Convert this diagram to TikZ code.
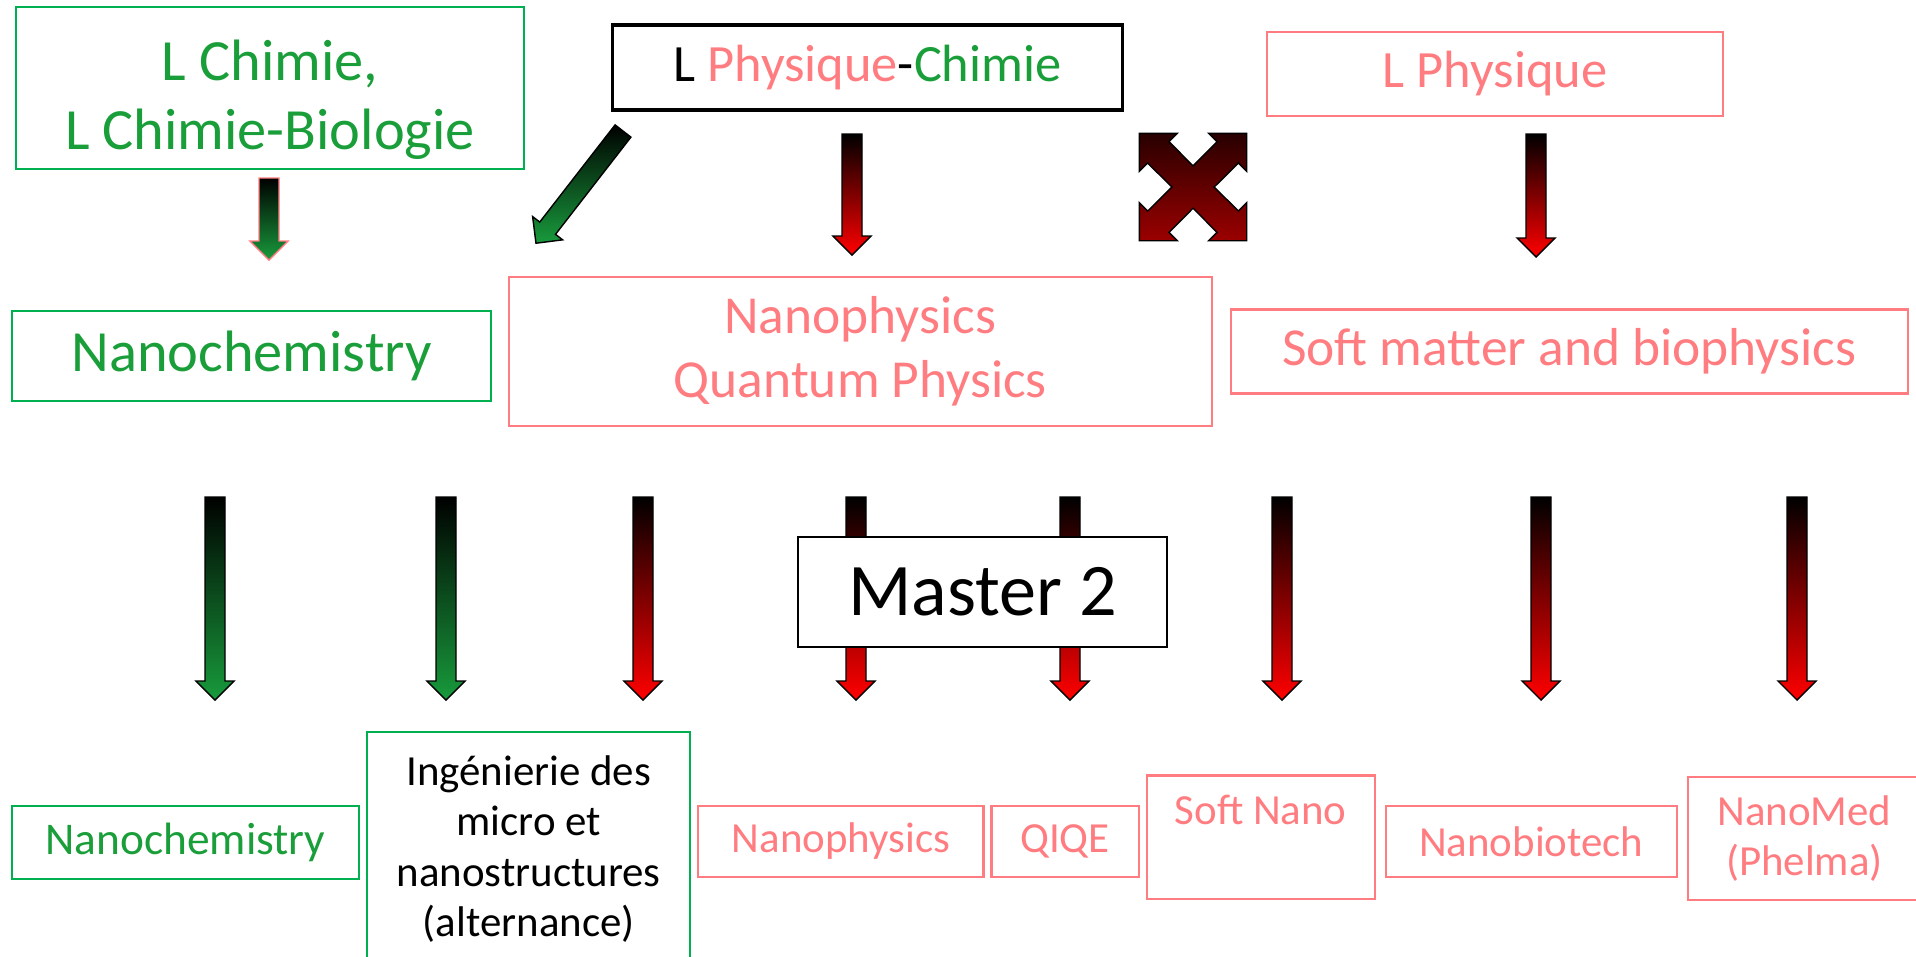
\documentclass[tikz,border=0pt]{standalone}
\usepackage{fontspec}
\setmainfont{Carlito}
\usetikzlibrary{positioning}
\definecolor{txtgreen}{RGB}{26,158,58}
\definecolor{boxgreen}{RGB}{0,176,80}
\definecolor{salmon}{RGB}{255,124,128}
\definecolor{arrgreen}{RGB}{24,155,60}
\definecolor{crosstop}{RGB}{40,0,0}
\definecolor{crossbot}{RGB}{155,0,0}
\tikzset{
	gbox/.style={draw=boxgreen,line width=0.6pt,text=txtgreen,align=center,inner sep=0pt,outer sep=0pt},
	sbox/.style={draw=salmon,line width=0.6pt,text=salmon,align=center,inner sep=0pt,outer sep=0pt},
	big/.style={font=\fontsize{16.6}{19.6}\selectfont},
	top/.style={font=\fontsize{14.9}{18.1}\selectfont},
	mid/.style={font=\fontsize{15.2}{18.3}\selectfont},
	small/.style={font=\fontsize{12.2}{14.3}\selectfont},
	arrbase/.style={draw=black,line width=0.4pt,top color=black},
	greenarr/.style={arrbase,bottom color=arrgreen},
	redarr/.style={arrbase,bottom color=red},
	pics/blockarr/.style 2 args={code={
		\path[#2] (-10,0) -- (-10,#1-19) -- (-19,#1-19) -- (0,#1) -- (19,#1-19) -- (10,#1-19) -- (10,0) -- cycle;
	}}
}
\begin{document}
\begin{tikzpicture}[x=0.01cm,y=-0.01cm]
	\useasboundingbox (0,0) rectangle (1916,956);
	\node[gbox,big,minimum width=5.08cm,minimum height=1.62cm] (chim) at (270,88) {\rule{0pt}{18pt}L Chimie,\\L Chimie-Biologie};
	\node[draw=black,line width=0.9pt,top,minimum width=5.09cm,minimum height=0.85cm,inner sep=0pt,outer sep=0pt] (phch) at (867.5,67.5) {L \textcolor{salmon}{Physique}-\textcolor{txtgreen}{Chimie}};
	\node[sbox,top,minimum width=4.56cm,minimum height=0.84cm] (phys) at (1495,74) {L Physique};

	\pic (ga1) at (269,178) {blockarr={82}{greenarr,draw=salmon}};
	\pic[rotate=-37.8] (ga2) at (623,131) {blockarr={142}{greenarr}};
	\pic (ra1) at (852,134) {blockarr={121}{redarr}};
	\pic (ra2) at (1536,134) {blockarr={123}{redarr}};
	\begin{scope}[shift={(1193,187)}]
		\path[draw=black,line width=0.4pt,top color=crosstop,bottom color=crossbot]
			(0,21.2) -- (-24,45.3) -- (-15.6,53.7) -- (-53.7,53.7) -- (-53.7,15.6) -- (-45.3,24) --
			(-21.2,0) -- (-45.3,-24) -- (-53.7,-15.6) -- (-53.7,-53.7) -- (-15.6,-53.7) -- (-24,-45.3) --
			(0,-21.2) -- (24,-45.3) -- (15.6,-53.7) -- (53.7,-53.7) -- (53.7,-15.6) -- (45.3,-24) --
			(21.2,0) -- (45.3,24) -- (53.7,15.6) -- (53.7,53.7) -- (15.6,53.7) -- (24,45.3) -- cycle;
	\end{scope}

	\node[gbox,big,minimum width=4.79cm,minimum height=0.90cm] (nchem) at (251.5,356) {Nanochemistry};
	\node[sbox,mid,minimum width=7.02cm,minimum height=1.49cm,right=0.18cm of nchem,yshift=0.045cm] (nphys) {Nanophysics\\Quantum Physics};
	\node[sbox,mid,minimum width=6.77cm,minimum height=0.84cm,right=0.19cm of nphys] (soft) {Soft matter and biophysics};

	\foreach \xa/\cb in {215/arrgreen,446/arrgreen,643/red,856/red,1070/red,1282/red,1541/red,1797/red}
		\pic (la\xa) at (\xa,497) {blockarr={203}{arrbase,bottom color=\cb}};
	\node[draw=black,line width=0.7pt,fill=white,font=\fontsize{21.1}{25}\selectfont,minimum width=3.69cm,minimum height=1.10cm] (m2) at (982.5,592) {Master 2};

	\node[gbox,font=\fontsize{12.9}{15}\selectfont,minimum width=3.47cm,minimum height=0.73cm] (nchem2) at (185.5,842.5) {Nanochemistry};
	\node[gbox,small,text=black,minimum width=3.23cm,minimum height=2.34cm,right=0.08cm of nchem2,yshift=-0.065cm] (ing) {Ingénierie des\\micro et\\nanostructures\\(alternance)};
	\node[sbox,small,minimum width=2.85cm,minimum height=0.71cm,right=0.08cm of ing,yshift=0.075cm] (nphys2) {Nanophysics};
	\node[sbox,small,minimum width=1.47cm,minimum height=0.71cm,right=0.08cm of nphys2] (qiqe) {QIQE};
	\node[sbox,small,minimum width=2.28cm,minimum height=1.23cm,right=0.08cm of qiqe,yshift=0.045cm] (softn) {Soft Nano\\[-3pt]\strut};
	\node[sbox,small,minimum width=2.91cm,minimum height=0.71cm,right=0.11cm of softn,yshift=-0.045cm] (nbio) {Nanobiotech};
	\node[sbox,small,minimum width=2.33cm,minimum height=1.23cm,right=0.11cm of nbio,yshift=0.03cm] (nmed) {NanoMed\\(Phelma)};
\end{tikzpicture}
\end{document}
